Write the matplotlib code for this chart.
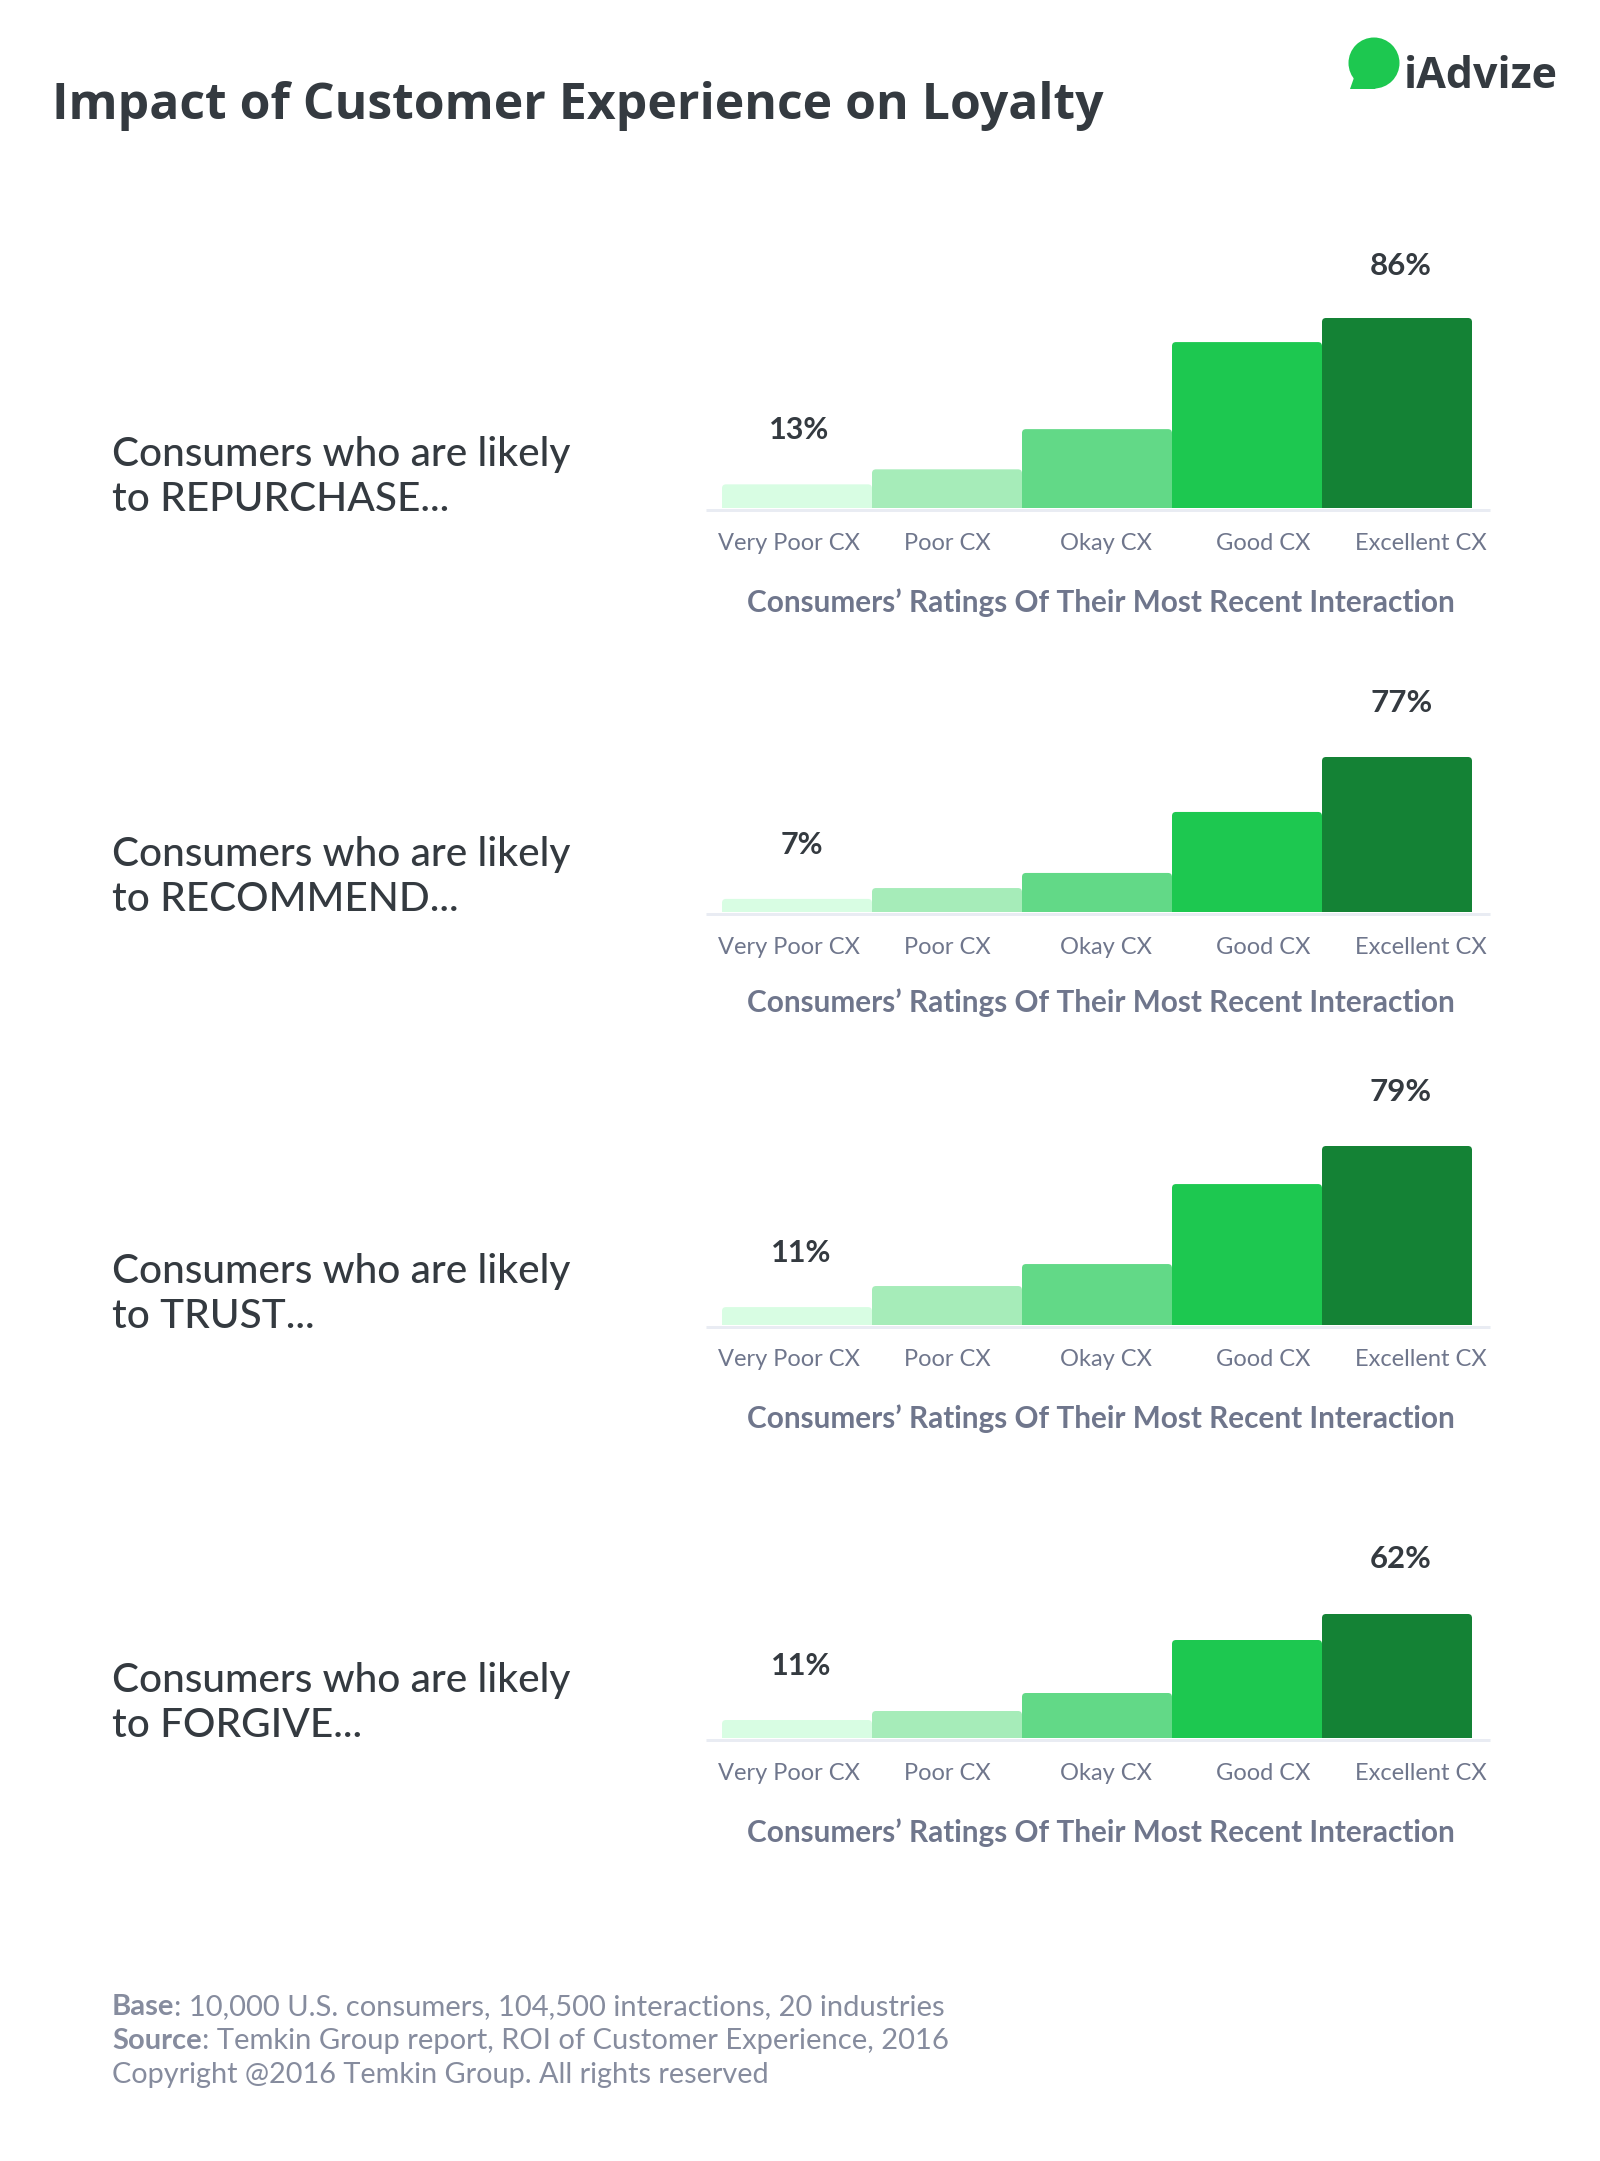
import matplotlib
matplotlib.use("Agg")
import matplotlib.pyplot as plt
from matplotlib.patches import Circle, PathPatch, Polygon
from matplotlib.path import Path

plt.rcParams["font.family"] = ["Lato", "DejaVu Sans"]

# %%
# data (bars are not quite to scale with their labels)
categories = ["Very Poor CX", "Poor CX", "Okay CX", "Good CX", "Excellent CX"]
actions = ["REPURCHASE", "RECOMMEND", "TRUST", "FORGIVE"]
repurchase = [10.7, 17.5, 35.7, 75.1, 86]
recommend = [6.5, 11.9, 19.4, 49.7, 77]
trust = [7.9, 17.2, 26.9, 62.2, 79]
forgive = [9, 13.5, 22.5, 49, 62]
low_labels = ["13%", "7%", "11%", "11%"]
high_labels = ["86%", "77%", "79%", "62%"]
series = [repurchase, recommend, trust, forgive]

colors = ["#d8fde3", "#a6ecb9", "#62d987", "#1dc850", "#148235"]
DARK = "#343a40"
GREY = "#6f768c"
FOOT = "#868c9e"

# %%
# layout in image pixels, y going down
W, H = 1600, 2161
baselines = [508, 912, 1325, 1738]
top_px = [190, 155, 179, 124]
low_y = [430, 845, 1253, 1666]
high_y = [266, 703, 1092, 1559]
low_x = [799, 802, 801, 801]
high_x = [1401, 1402, 1401, 1401]
tick_y = [543, 947, 1359, 1773]
title_y = [603, 1003, 1419, 1833]
left_y = [466, 866, 1283, 1692]
tick_x = [789, 947.5, 1105.5, 1263.5, 1421]
BAR_LEFT, BAR_W = 722, 150

fig = plt.figure(figsize=(W / 100, H / 100), dpi=100, facecolor="white")
bg = fig.add_axes([0, 0, 1, 1])
bg.set_xlim(0, W)
bg.set_ylim(H, 0)
bg.axis("off")


def rounded_bar(ax, left, height, width, color, rx, ry):
    # bar with only the two top corners rounded
    verts = [(left, 0), (left, height - ry), (left, height), (left + rx, height),
             (left + width - rx, height), (left + width, height),
             (left + width, height - ry), (left + width, 0), (left, 0)]
    codes = [Path.MOVETO, Path.LINETO, Path.CURVE3, Path.CURVE3, Path.LINETO,
             Path.CURVE3, Path.CURVE3, Path.LINETO, Path.CLOSEPOLY]
    ax.add_patch(PathPatch(Path(verts, codes), facecolor=color, edgecolor="none"))


def text_run(x, y, parts, size, color):
    # bold + regular pieces on one line
    rend = fig.canvas.get_renderer()
    for s, weight in parts:
        t = bg.text(x, y, s, fontsize=size, fontweight=weight, color=color, va="baseline")
        x = bg.transData.inverted().transform(t.get_window_extent(rend).corners()[2])[0]


# %%
bg.text(52, 119, "Impact of Customer Experience on Loyalty", fontsize=35.9,
        family="Open Sans", fontweight="bold", color=DARK, va="baseline")

# logo
bg.add_patch(Circle((1374, 63), 25.5, facecolor="#1dc850", edgecolor="none"))
bg.add_patch(Polygon([(1350, 89), (1376, 89), (1356, 72)], facecolor="#1dc850", edgecolor="none"))
bg.text(1404, 88, "iAdvize", fontsize=31, family="Open Sans", fontweight="bold", color=DARK, va="baseline")

for i, values in enumerate(series):
    base = baselines[i]
    ax = fig.add_axes([BAR_LEFT / W, 1 - base / H, 5 * BAR_W / W, top_px[i] / H])
    ax.set_xlim(0, 5)
    ax.set_ylim(0, max(values))
    ax.axis("off")
    per_px = max(values) / top_px[i]
    for j, v in enumerate(values):
        rounded_bar(ax, j, v, 1, colors[j], 4 / BAR_W, 4 * per_px)

    bg.plot([706, 1490], [base + 1.5, base + 1.5], color="#e9ecf3", lw=2.16,
            solid_capstyle="butt", zorder=1)

    bg.text(low_x[i], low_y[i], low_labels[i], fontsize=22, fontweight="bold",
            color=DARK, ha="center", va="center")
    bg.text(high_x[i], high_y[i], high_labels[i], fontsize=22.5, fontweight="bold",
            color=DARK, ha="center", va="center")

    for x, c in zip(tick_x, categories):
        bg.text(x, tick_y[i], c, fontsize=17, color=GREY, ha="center", va="center")
    bg.text(1101, title_y[i], "Consumers\u2019 Ratings Of Their Most Recent Interaction",
            fontsize=21.4, fontweight="bold", color=GREY, ha="center", va="center")

    bg.text(112, left_y[i], "Consumers who are likely", fontsize=29.2, fontweight="medium",
            color=DARK, va="baseline")
    bg.text(112, left_y[i] + 45, f"to {actions[i]}...", fontsize=29.2, fontweight="medium",
            color=DARK, va="baseline")

# %%
text_run(112, 2015, [("Base", "bold"), (": 10,000 U.S. consumers, 104,500 interactions, 20 industries", "normal")], 21, FOOT)
text_run(112, 2049, [("Source", "bold"), (": Temkin Group report, ROI of Customer Experience, 2016", "normal")], 21, FOOT)
text_run(112, 2083, [("Copyright @2016 Temkin Group. All rights reserved", "normal")], 20.8, FOOT)

fig.savefig("out.png", dpi=100)
